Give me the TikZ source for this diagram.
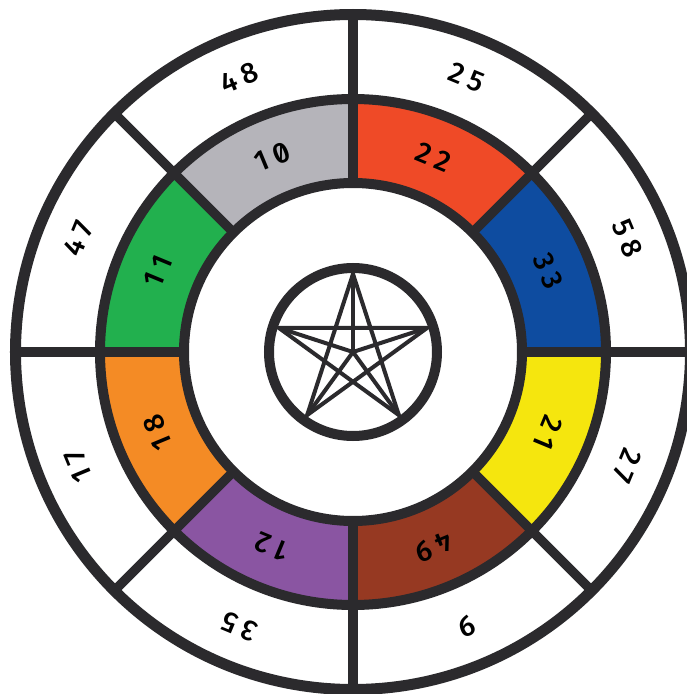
\documentclass[tikz,border=0pt]{standalone}
\usepackage{fontspec}
\setmainfont{Fira Sans}[UprightFont=* Medium, RawFeature=+zero]
\usepackage{xcolor}
\usepackage{tikz}
\usetikzlibrary{calc}

\definecolor{ink}{HTML}{2B2A2D}
\definecolor{wgray}{HTML}{B5B4BA}
\definecolor{wred}{HTML}{EF4A27}
\definecolor{wblue}{HTML}{0E4CA0}
\definecolor{wyellow}{HTML}{F5E60E}
\definecolor{wbrown}{HTML}{963922}
\definecolor{wpurple}{HTML}{8A55A2}
\definecolor{worange}{HTML}{F48B25}
\definecolor{wgreen}{HTML}{22B04E}

\begin{document}
\begin{tikzpicture}[
  x=1pt, y=1pt,
  ring/.style={draw=ink, line width=10pt},
  spoke/.style={draw=ink, line width=9.5pt},
  starline/.style={draw=ink, line width=4pt, line join=miter},
  numlbl/.style={text=black, inner sep=0pt, font=\fontsize{29}{29}\selectfont\addfontfeature{LetterSpace=22}},
]
  \useasboundingbox (-353,-342) rectangle (334,352);
  \fill[white] (-353,-342) rectangle (334,352);
  \clip (-353,-342) rectangle (334,352);

  % Colour ring
  \foreach \a/\col in {90/wgray, 45/wred, 0/wblue, -45/wyellow,
                       -90/wbrown, -135/wpurple, 180/worange, 135/wgreen}
    \fill[\col] (\a:169) arc (\a:\a+45:169) -- (\a+45:253) arc (\a+45:\a:253) -- cycle;

  % Rings and spokes
  \foreach \a in {0,45,...,315}
    \draw[spoke] (\a:169) -- (\a:337);
  \draw[ring, line width=11pt] (0,0) circle (337.5);
  \draw[ring] (0,0) circle (253);
  \draw[ring] (0,0) circle (169);

  % Outer numbers
  \foreach \a/\t [count=\i] in {112.5/48, 67.5/25, 22.5/58, -22.5/27,
                                -67.5/9, -112.5/35, 202.5/17, 157.5/47}
    \node[numlbl, rotate=\a-90] (o\i) at (\a:297) {\t};

  % Inner numbers
  \foreach \a/\t [count=\i] in {112.5/10, 67.5/22, 22.5/33, -22.5/21,
                                -67.5/49, -112.5/12, 202.5/18, 157.5/11}
    \node[numlbl, rotate=\a-90] (c\i) at (\a:211) {\t};

  % Pentagram
  \coordinate (ctr) at (0,0);
  \foreach \k in {0,...,4}
    \coordinate (p\k) at (90+72*\k:78);
  \draw[starline] (p0) -- (p2) -- (p4) -- (p1) -- (p3) -- cycle;
  \foreach \k in {0,...,4}
    \draw[starline] (ctr) -- (p\k);
  \draw[ring] (ctr) circle (84);

\end{tikzpicture}
\end{document}
